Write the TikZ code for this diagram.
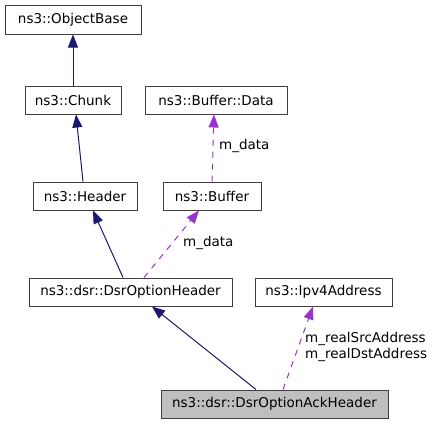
\documentclass[tikz,border=0pt]{standalone}
\usepackage{fontspec}
\setmainfont{DejaVu Sans}
\usetikzlibrary{arrows.meta}
\definecolor{navy}{HTML}{191970}
\definecolor{orch}{HTML}{9A32CD}
\definecolor{boxline}{HTML}{404040}
\begin{document}
\begin{tikzpicture}[x=1pt,y=-1pt,
  cls/.style={draw=boxline,line width=1pt,fill=white,inner sep=0pt,minimum height=28pt,font=\fontsize{13.5}{16}\selectfont},
  inh/.style={navy,line width=1pt,-{Triangle[length=13pt,width=10pt]}},
  mem/.style={orch,line width=1pt,dash pattern=on 6pt off 6pt,-{Triangle[length=13pt,width=10pt]}},
  lbl/.style={font=\fontsize{13.5}{16}\selectfont,inner sep=0pt,anchor=west}]
\useasboundingbox (0,0) rectangle (435,424);
\node[cls,minimum width=136pt,minimum height=29pt] (obj) at (73,19.5) {ns3::ObjectBase};
\node[cls,minimum width=96pt] (chunk) at (73,100) {ns3::Chunk};
\node[cls,minimum width=142pt] (data) at (216,100) {ns3::Buffer::Data};
\node[cls,minimum width=104pt] (header) at (85,196) {ns3::Header};
\node[cls,minimum width=98pt] (buffer) at (212,196) {ns3::Buffer};
\node[cls,minimum width=203pt] (doh) at (130.5,292) {ns3::dsr::DsrOptionHeader};
\node[cls,minimum width=137pt] (ipv4) at (323.5,292) {ns3::Ipv4Address};
\node[cls,minimum width=227pt,fill=black!25] (ack) at (274.5,404) {ns3::dsr::DsrOptionAckHeader};
\draw[inh] (chunk.north) -- (obj.south);
\draw[inh] ([xshift=-2pt]header.north) -- ([xshift=3pt]chunk.south);
\draw[inh] ([xshift=-7.5pt]doh.north) -- ([xshift=8pt]header.south);
\draw[inh] ([xshift=-18.5pt]ack.north) -- ([xshift=21.5pt]doh.south);
\draw[mem] (buffer.north) -- ([xshift=-2pt]data.south);
\draw[mem] ([xshift=13.5pt]doh.north) -- ([xshift=-13pt]buffer.south);
\draw[mem] ([xshift=8.5pt]ack.north) -- ([xshift=-10.5pt]ipv4.south);
\node[lbl] (l1) at (219,145.5) {m\_data};
\node[lbl] (l2) at (183,242.5) {m\_data};
\node[lbl,align=left] (l3) at (305,346.5) {m\_realSrcAddress\\m\_realDstAddress};
\end{tikzpicture}
\end{document}
